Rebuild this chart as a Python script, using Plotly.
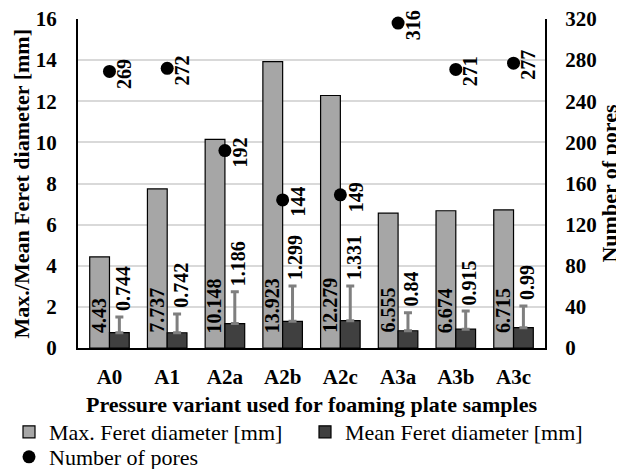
import plotly.graph_objects as go

categories = ["A0", "A1", "A2a", "A2b", "A2c", "A3a", "A3b", "A3c"]
max_feret = [4.43, 7.737, 10.148, 13.923, 12.279, 6.555, 6.674, 6.715]
mean_feret = [0.744, 0.742, 1.186, 1.299, 1.331, 0.84, 0.915, 0.99]
mean_err = [0.76, 0.91, 1.55, 1.72, 1.68, 0.87, 0.88, 1.05]
pores = [269, 272, 192, 144, 149, 316, 271, 277]
left_title = "Max./Mean Feret diameter [mm]"
right_title = "Number of pores"
x_title = "Pressure variant used for foaming plate samples"

FONT = "Liberation Serif"
TICK = 21
TITLE = 22
W, H = 616, 461  # page adds an 8 px body margin

fig = go.Figure()
fig.add_trace(go.Bar(
    x=categories, y=max_feret, name="Max. Feret diameter [mm]",
    marker=dict(color="#a6a6a6", line=dict(color="black", width=1.2)),
    legend="legend2",
))
fig.add_trace(go.Bar(
    x=categories, y=mean_feret, name="Mean Feret diameter [mm]",
    marker=dict(color="#404040", line=dict(color="black", width=1.2)),
    error_y=dict(type="data", symmetric=False, array=mean_err,
                 arrayminus=[0] * len(mean_err),
                 color="#7f7f7f", thickness=3, width=4),
    legend="legend3",
))
fig.add_trace(go.Scatter(
    x=categories, y=pores, name="Number of pores", yaxis="y2",
    mode="markers", marker=dict(color="black", size=13),
    cliponaxis=False, legend="legend4",
))

annotations = []
lab_font = dict(family=FONT, size=20, color="black")
for c, v in zip(categories, max_feret):
    annotations.append(dict(x=c, y=0, xref="x", yref="y", text="<b>%s</b>" % v,
                            textangle=-90, showarrow=False, xanchor="center",
                            yanchor="bottom", xshift=-11, yshift=13, font=lab_font))
for c, v, e in zip(categories, mean_feret, mean_err):
    annotations.append(dict(x=c, y=v + e, xref="x", yref="y", text="<b>%s</b>" % v,
                            textangle=-90, showarrow=False, xanchor="center",
                            yanchor="bottom", xshift=13, yshift=4, font=lab_font))
for c, v in zip(categories, pores):
    annotations.append(dict(x=c, y=v, xref="x", yref="y2", text="<b>%s</b>" % v,
                            textangle=-90, showarrow=False, xanchor="center",
                            yanchor="middle", xshift=15, yshift=-2, font=lab_font))
# left axis title (drawn as rotated text beside the axis)
annotations.append(dict(x=0, y=0.5, xref="paper", yref="paper",
                        text="<b>%s</b>" % left_title, textangle=-90,
                        showarrow=False, xanchor="center", yanchor="middle",
                        xshift=-57, font=dict(family=FONT, size=TITLE, color="black")))

leg_common = dict(orientation="v", xref="container", yref="container",
                  xanchor="left", yanchor="middle", bgcolor="rgba(0,0,0,0)",
                  font=dict(family=FONT, size=22, color="black"),
                  itemwidth=30, tracegroupgap=0)

fig.update_layout(
    width=W, height=H,
    margin=dict(l=70, r=79, t=11, b=121, autoexpand=False),
    paper_bgcolor="white", plot_bgcolor="white",
    barmode="group", bargap=0.315, bargroupgap=0,
    hovermode=False,
    font=dict(family=FONT, color="black"),
    xaxis=dict(
        showline=True, linecolor="black", linewidth=2,
        tickfont=dict(family=FONT, size=TICK, color="black"),
        ticks="outside", ticklen=9, tickcolor="rgba(0,0,0,0)",
        title=dict(text="<b>%s</b>" % x_title,
                   font=dict(family=FONT, size=TITLE), standoff=8),
        tickprefix="<b>", ticksuffix="</b>",
    ),
    yaxis=dict(
        range=[0, 16], dtick=2, showgrid=True, gridcolor="#d9d9d9", gridwidth=1.5,
        showline=True, linecolor="black", linewidth=2, zeroline=False,
        tickfont=dict(family=FONT, size=TICK, color="black"),
        tickprefix="<b>", ticksuffix="</b>", ticklabeloverflow="allow",
        ticks="outside", ticklen=15, tickcolor="rgba(0,0,0,0)",
    ),
    yaxis2=dict(
        range=[0, 320], dtick=40, overlaying="y", side="right",
        showgrid=False, showline=True, linecolor="black", linewidth=2, zeroline=False,
        tickfont=dict(family=FONT, size=TICK, color="black"),
        tickprefix="<b>", ticksuffix="</b>", ticklabeloverflow="allow",
        ticks="outside", ticklen=14, tickcolor="rgba(0,0,0,0)",
        title=dict(text="<b>%s</b>" % right_title,
                   font=dict(family=FONT, size=TITLE), standoff=2),
    ),
    legend2=dict(x=1 / W, y=1 - 424 / H, **leg_common),
    legend3=dict(x=297 / W, y=1 - 424 / H, **leg_common),
    legend4=dict(x=1 / W, y=1 - 449 / H, **leg_common),
    annotations=annotations,
)

fig.write_html("out.html", config={"displayModeBar": False})
